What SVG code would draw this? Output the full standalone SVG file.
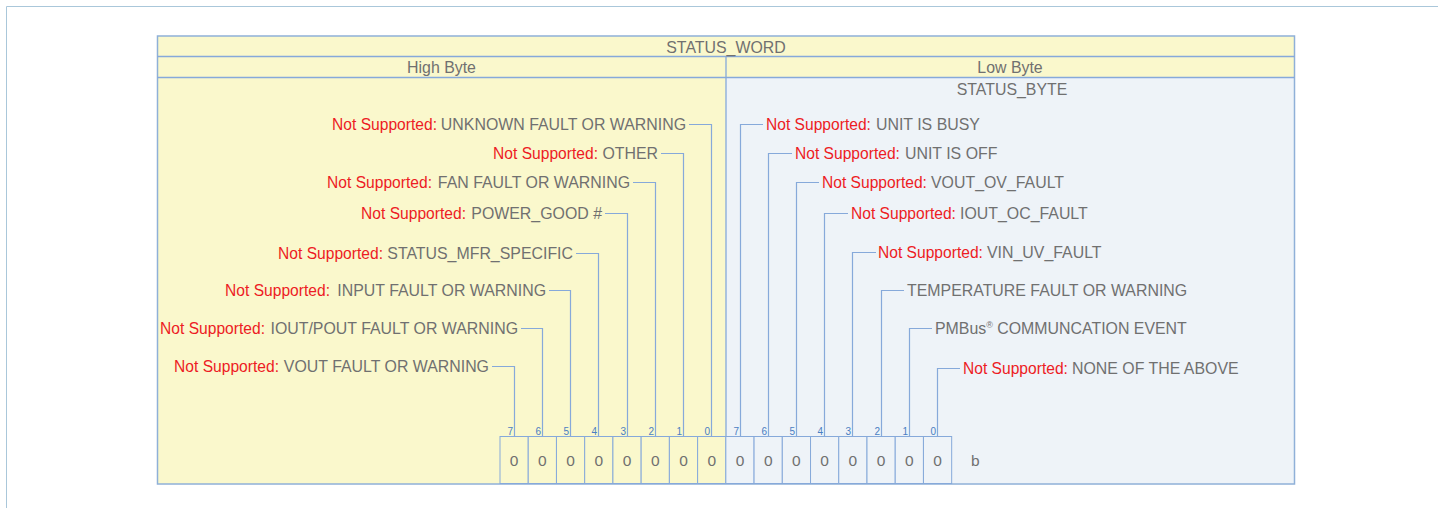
<svg xmlns="http://www.w3.org/2000/svg" width="1438" height="508" viewBox="0 0 1438 508">
<style>
text{font-family:"Liberation Sans",Arial,sans-serif;font-size:15.9px;fill:#707070}
.r{fill:#ED1C24;font-size:15.6px}
.n{font-size:10px;fill:#4A7EC2;text-anchor:end}
.v{text-anchor:middle}
.z{font-size:15.5px}
.c{fill:none;stroke:#86A9DA;stroke-width:1.2}
.cell{stroke:#86A9DA;stroke-width:1}
.hi{fill:#FAF8CC}
.lo{fill:#EEF3F8}
.e{text-anchor:end}
</style>
<rect width="1438" height="508" fill="#fff"/>
<path d="M6.5 508V6.5H1438" fill="none" stroke="#AAC7DA" stroke-width="1"/>
<g id="frame">
<rect x="157.5" y="36" width="568.5" height="448" class="hi"/>
<rect x="726" y="77" width="568.5" height="407" class="lo"/>
<rect x="726" y="36" width="568.5" height="41" class="hi"/>
<rect x="157.5" y="36" width="1137" height="448" fill="none" stroke="#8FB0D8" stroke-width="1.5"/>
<path d="M157.5 56.5H1294.5M157.5 77.5H1294.5M726 56.5V484" fill="none" stroke="#86A9DA" stroke-width="1.3"/>
</g>
<g id="status_word"><text x="726" y="52.5" class="v">STATUS_WORD</text></g>
<g id="high_byte"><text x="441.5" y="73" class="v">High Byte</text></g>
<g id="low_byte"><text x="1010" y="73" class="v">Low Byte</text></g>
<g id="status_byte"><text x="1012" y="95" class="v">STATUS_BYTE</text></g>

<g id="connectors">
<path class="c" d="M689 124.5H711.5V436.5"/>
<path class="c" d="M661 153.5H683.5V436.5"/>
<path class="c" d="M633 182.5H655.5V436.5"/>
<path class="c" d="M605 213.5H627.5V436.5"/>
<path class="c" d="M576 253.5H598.5V436.5"/>
<path class="c" d="M549 290.5H570.5V436.5"/>
<path class="c" d="M521 328.5H542.5V436.5"/>
<path class="c" d="M492 366.5H514.5V436.5"/>
<path class="c" d="M763 124.5H740.5V436.5"/>
<path class="c" d="M792 153.5H768.5V436.5"/>
<path class="c" d="M819 182.5H796.5V436.5"/>
<path class="c" d="M848 213.5H824.5V436.5"/>
<path class="c" d="M876 252.5H852.5V436.5"/>
<path class="c" d="M904 290.5H881.5V436.5"/>
<path class="c" d="M932 328.5H909.5V436.5"/>
<path class="c" d="M960 368.5H937.5V436.5"/>
</g>

<g id="hb0"><text x="437" y="130" class="r e">Not Supported:</text><text x="686" y="130" class="e">UNKNOWN FAULT OR WARNING</text></g>
<g id="hb1"><text x="598" y="158.5" class="r e">Not Supported:</text><text x="658" y="158.5" class="e">OTHER</text></g>
<g id="hb2"><text x="432" y="187.5" class="r e">Not Supported:</text><text x="630" y="187.5" class="e">FAN FAULT OR WARNING</text></g>
<g id="hb3"><text x="466" y="218.5" class="r e">Not Supported:</text><text x="602" y="218.5" class="e">POWER_GOOD #</text></g>
<g id="hb4"><text x="383" y="258.5" class="r e">Not Supported:</text><text x="573" y="258.5" class="e">STATUS_MFR_SPECIFIC</text></g>
<g id="hb5"><text x="330" y="295.5" class="r e">Not Supported:</text><text x="546" y="295.5" class="e">INPUT FAULT OR WARNING</text></g>
<g id="hb6"><text x="265" y="333.5" class="r e">Not Supported:</text><text x="518" y="333.5" class="e">IOUT/POUT FAULT OR WARNING</text></g>
<g id="hb7"><text x="279" y="371.5" class="r e">Not Supported:</text><text x="489" y="371.5" class="e">VOUT FAULT OR WARNING</text></g>

<g id="lb7"><text x="766" y="130" class="r">Not Supported:</text><text x="876" y="130">UNIT IS BUSY</text></g>
<g id="lb6"><text x="795" y="158.5" class="r">Not Supported:</text><text x="905" y="158.5">UNIT IS OFF</text></g>
<g id="lb5"><text x="822" y="187.5" class="r">Not Supported:</text><text x="931" y="187.5">VOUT_OV_FAULT</text></g>
<g id="lb4"><text x="851" y="218.5" class="r">Not Supported:</text><text x="960" y="218.5">IOUT_OC_FAULT</text></g>
<g id="lb3"><text x="878" y="257.5" class="r">Not Supported:</text><text x="987" y="257.5">VIN_UV_FAULT</text></g>
<g id="lb2"><text x="907" y="295.5">TEMPERATURE FAULT OR WARNING</text></g>
<g id="lb1"><text x="935" y="333.5">PMBus<tspan font-size="9" dy="-6">®</tspan><tspan dy="6"> COMMUNCATION EVENT</tspan></text></g>
<g id="lb0"><text x="963" y="373.5" class="r">Not Supported:</text><text x="1072" y="373.5">NONE OF THE ABOVE</text></g>

<g id="bits">
<rect x="500" y="436.5" width="28.23" height="47" class="cell hi"/>
<rect x="528.23" y="436.5" width="28.23" height="47" class="cell hi"/>
<rect x="556.46" y="436.5" width="28.23" height="47" class="cell hi"/>
<rect x="584.69" y="436.5" width="28.23" height="47" class="cell hi"/>
<rect x="612.92" y="436.5" width="28.23" height="47" class="cell hi"/>
<rect x="641.15" y="436.5" width="28.23" height="47" class="cell hi"/>
<rect x="669.38" y="436.5" width="28.23" height="47" class="cell hi"/>
<rect x="697.61" y="436.5" width="28.23" height="47" class="cell hi"/>
<rect x="725.84" y="436.5" width="28.23" height="47" class="cell lo"/>
<rect x="754.07" y="436.5" width="28.23" height="47" class="cell lo"/>
<rect x="782.3" y="436.5" width="28.23" height="47" class="cell lo"/>
<rect x="810.53" y="436.5" width="28.23" height="47" class="cell lo"/>
<rect x="838.76" y="436.5" width="28.23" height="47" class="cell lo"/>
<rect x="866.99" y="436.5" width="28.23" height="47" class="cell lo"/>
<rect x="895.22" y="436.5" width="28.23" height="47" class="cell lo"/>
<rect x="923.45" y="436.5" width="28.23" height="47" class="cell lo"/>
<text x="514.1" y="466" class="v z">0</text>
<text x="542.3" y="466" class="v z">0</text>
<text x="570.6" y="466" class="v z">0</text>
<text x="598.8" y="466" class="v z">0</text>
<text x="627" y="466" class="v z">0</text>
<text x="655.3" y="466" class="v z">0</text>
<text x="683.5" y="466" class="v z">0</text>
<text x="711.7" y="466" class="v z">0</text>
<text x="740" y="466" class="v z">0</text>
<text x="768.2" y="466" class="v z">0</text>
<text x="796.4" y="466" class="v z">0</text>
<text x="824.6" y="466" class="v z">0</text>
<text x="852.9" y="466" class="v z">0</text>
<text x="881.1" y="466" class="v z">0</text>
<text x="909.3" y="466" class="v z">0</text>
<text x="937.6" y="466" class="v z">0</text>
<text x="971" y="466" class="z">b</text>
<text x="513" y="435" class="n">7</text>
<text x="541" y="435" class="n">6</text>
<text x="569" y="435" class="n">5</text>
<text x="597" y="435" class="n">4</text>
<text x="626" y="435" class="n">3</text>
<text x="654" y="435" class="n">2</text>
<text x="682" y="435" class="n">1</text>
<text x="710" y="435" class="n">0</text>
<text x="739" y="435" class="n">7</text>
<text x="767" y="435" class="n">6</text>
<text x="795" y="435" class="n">5</text>
<text x="823" y="435" class="n">4</text>
<text x="851" y="435" class="n">3</text>
<text x="880" y="435" class="n">2</text>
<text x="908" y="435" class="n">1</text>
<text x="936" y="435" class="n">0</text>
</g>
</svg>
